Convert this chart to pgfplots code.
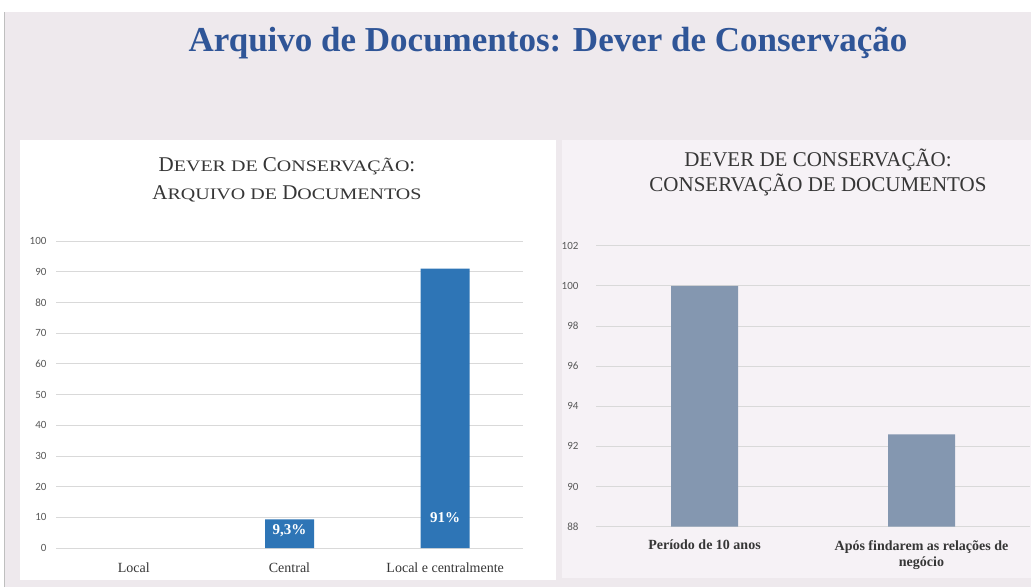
\documentclass[border=0pt]{standalone}
\usepackage{fontspec}
\usepackage{pgfplots}
\pgfplotsset{compat=1.18}
\setmainfont{Liberation Serif}
\newfontfamily\tickfont{Carlito}
\newfontfamily\scfont[FakeStretch=1.25]{Liberation Serif}
\newcommand\sca[1]{{\scfont\fontsize{16}{18}\selectfont #1}}

\definecolor{bgpage}{HTML}{EEE9ED}
\definecolor{bgright}{HTML}{F6F2F6}
\definecolor{titleblue}{HTML}{2F5597}
\definecolor{txtgrey}{HTML}{363636}
\definecolor{tickgrey}{HTML}{595959}
\definecolor{gridgrey}{HTML}{D9D9D9}
\definecolor{barblue}{HTML}{2E75B6}
\definecolor{barslate}{HTML}{8497B0}

\pgfplotsset{
  panel/.style={
    scale only axis, anchor=south west,
    axis line style={draw=none},
    major tick length=0pt,
    ymajorgrids, grid style={draw=gridgrey, line width=0.8pt},
    ybar, xtick={0,1,2},
    /pgf/number format/assume math mode=true,
    yticklabel style={font=\tickfont\fontsize{11}{12}\selectfont, text=tickgrey},
    xticklabel style={text=txtgrey},
  },
}

\begin{document}
\begin{tikzpicture}
% page background
\fill[bgpage] (0pt,0pt) rectangle (1031pt,587pt);
\fill[white] (0pt,575pt) rectangle (1031pt,587pt);
\fill[white] (0pt,0pt) rectangle (4pt,587pt);
\draw[gray!50, line width=1pt] (4.5pt,0pt) -- (4.5pt,575pt);
\fill[white] (20pt,7pt) rectangle (556pt,447pt);
\fill[bgright] (562pt,9pt) rectangle (1031pt,447pt);

\node[text=titleblue, font=\bfseries\fontsize{35}{40}\selectfont] at (548pt,544pt)
  {Arquivo de Documentos: Dever de Conservação};

% left chart
\node[text=txtgrey, font=\fontsize{21}{24}\selectfont] at (287pt,421pt)
  {D\sca{EVER DE} C\sca{ONSERVAÇÃO}:};
\node[text=txtgrey, font=\fontsize{21}{24}\selectfont] at (287pt,393pt)
  {A\sca{RQUIVO DE} D\sca{OCUMENTOS}};

\begin{axis}[panel,
  at={(56pt,39pt)}, width=467pt, height=307pt,
  xmin=-0.5, xmax=2.5, ymin=0, ymax=100,
  ytick={0,10,...,100},
  yticklabel style={xshift=-6pt},
  xticklabels={Local,Central,Local e centralmente},
  xticklabel style={font=\fontsize{14}{16}\selectfont, yshift=-11pt},
  bar width=49pt,
]
% Local = 0 draws no bar
\addplot[fill=barblue, draw=none] coordinates {(1,9.3) (2,91)};
\node[text=white, font=\bfseries\fontsize{15}{17}\selectfont] at (axis cs:1,5.6) {9,3\%};
\node[text=white, font=\bfseries\fontsize{15}{17}\selectfont] at (axis cs:2,10) {91\%};
\end{axis}

% right chart
\node[text=txtgrey, font=\fontsize{21}{24}\selectfont] at (818pt,427pt)
  {DEVER DE CONSERVAÇÃO:};
\node[text=txtgrey, font=\fontsize{21}{24}\selectfont] at (818pt,402pt)
  {CONSERVAÇÃO DE DOCUMENTOS};

\begin{axis}[panel,
  at={(596pt,60.3pt)}, width=434pt, height=281pt,
  xmin=-0.5, xmax=1.5, ymin=88, ymax=102,
  ytick={88,90,...,102},
  yticklabel style={xshift=-14pt},
  xticklabels={Período de 10 anos,{Após findarem as relações de\\negócio}},
  xticklabel style={font=\bfseries\fontsize{14}{16}\selectfont, align=center, yshift=-10pt},
  bar width=67pt,
]
\addplot[fill=barslate, draw=none] coordinates {(0,100) (1,92.6)};
\end{axis}

\pgfresetboundingbox
\useasboundingbox (0pt,0pt) rectangle (1031pt,587pt);
\end{tikzpicture}
\end{document}
